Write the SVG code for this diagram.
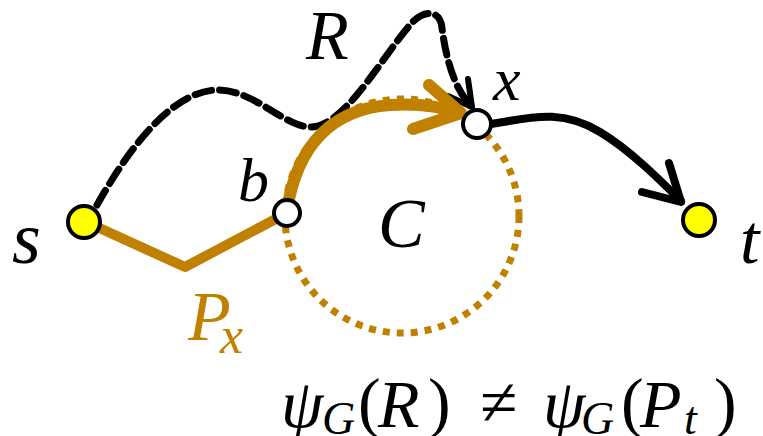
<svg xmlns="http://www.w3.org/2000/svg" width="763" height="436" viewBox="0 0 763 436">
<style>
.lbl{font-family:"Liberation Serif","DejaVu Serif",serif;font-style:italic;fill:#000}
.up{font-style:normal}
.org{stroke:#C08000;fill:none;stroke-linecap:round;stroke-linejoin:round}
.blk{stroke:#000;fill:none;stroke-linecap:round;stroke-linejoin:round}
.node{stroke:#000;stroke-width:4}
.sub{font-size:46px}
</style>
<rect width="763" height="436" fill="#fff"/>
<g id="cycleC">
<circle cx="402" cy="216" r="117" fill="none" stroke="#C08000" stroke-width="7" stroke-dasharray="7 7"/>
</g>
<g id="connectors">
<path id="R" class="blk" stroke-width="7" stroke-dasharray="17 8" stroke-linecap="butt" d="M 97 205 C 125 155, 170 90, 218 90 C 255 90, 285 128, 312 127 C 345 125, 380 60, 410 25 C 422 10, 440 8, 442 28 C 446 60, 455 88, 468 102"/>
<path class="blk" stroke-width="6" d="M 468 79 L 472 107 L 448 96"/>
<path id="Px" class="org" stroke-width="10" d="M 84 221 L 185 267 L 287 213"/>
<path class="org" stroke-width="12" d="M 287 210 C 295 160, 320 110, 390 105 C 420 103, 445 108, 460 113"/>
<path class="org" stroke-width="12" d="M 429 85 L 461 113 L 413 129"/>
<path id="xt" class="blk" stroke-width="8" d="M 491 124 C 530 118, 560 108, 600 132 C 630 150, 660 180, 681 201"/>
<path class="blk" stroke-width="8" d="M 669 163 L 681 202 L 642 192"/>
</g>
<g id="s"><circle class="node" cx="84" cy="222" r="16" fill="#FFFF00"/><text class="lbl" x="12" y="263" font-size="74">s</text></g>
<g id="b"><circle class="node" cx="287" cy="213" r="13" fill="#fff"/><text class="lbl" x="238" y="201" font-size="62">b</text></g>
<g id="x"><circle class="node" cx="477" cy="124" r="14" fill="#fff"/><text class="lbl" x="493" y="100" font-size="62">x</text></g>
<g id="t"><circle class="node" cx="699" cy="220" r="16" fill="#FFFF00"/><text class="lbl" x="740" y="263" font-size="70">t</text></g>
<text class="lbl" x="306" y="59" font-size="70">R</text>
<text class="lbl" x="378" y="247" font-size="70">C</text>
<text class="lbl" x="188" y="340" font-size="70" style="fill:#C08000">P</text>
<text class="lbl" x="220" y="353" font-size="52" style="fill:#C08000">x</text>
<g id="formula" class="lbl" font-size="68">
<text x="281" y="427">ψ</text>
<text x="322" y="434" class="sub">G</text>
<text x="358" y="425" class="up">(</text>
<text x="378" y="427">R</text>
<text x="428" y="425" class="up">)</text>
<text x="480" y="425" class="up">≠</text>
<text x="543" y="427">ψ</text>
<text x="581" y="434" class="sub">G</text>
<text x="621" y="425" class="up">(</text>
<text x="640" y="427">P</text>
<text x="684" y="434" class="sub">t</text>
<text x="714" y="425" class="up">)</text>
</g>
</svg>
